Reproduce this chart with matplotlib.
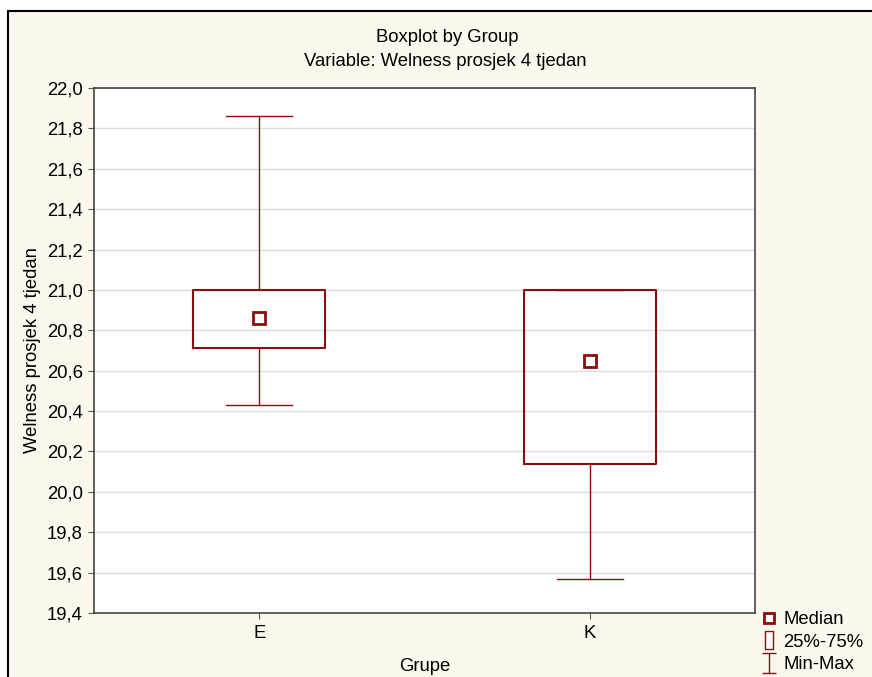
import matplotlib
matplotlib.use("Agg")
import matplotlib.pyplot as plt
from matplotlib.patches import Rectangle
from matplotlib.lines import Line2D
from matplotlib.path import Path

plt.rcParams['font.family'] = ['Liberation Sans', 'DejaVu Sans']

# ---- data ----
groups = ["E", "K"]
mins = [20.43, 19.57]
q1s = [20.71, 20.14]
medians = [20.86, 20.65]
q3s = [21.0, 21.0]
maxs = [21.86, 21.0]
yticks = [19.4, 19.6, 19.8, 20.0, 20.2, 20.4, 20.6, 20.8, 21.0, 21.2, 21.4, 21.6, 21.8, 22.0]
ytick_labels = [f"{v:.1f}".replace(".", ",") for v in yticks]
title1 = "Boxplot by Group"
title2 = "Variable: Welness prosjek 4 tjedan"
ylabel = "Welness prosjek 4 tjedan"
xlabel = "Grupe"
legend_labels = ["Median", "25%-75%", "Min-Max"]

RED = "#8B0E0E"
CREAM = "#FDF8ED"
FS = 13.3

W, H = 872, 677
fig = plt.figure(figsize=(W / 100, H / 100), dpi=100, facecolor="white")
# cream frame with black border
fig.patches.append(Rectangle((8 / W, -0.05), 1.1, 1 - 11 / H + 0.05, transform=fig.transFigure,
                             facecolor=CREAM, edgecolor="black", linewidth=1.5, zorder=-10))

ax = fig.add_axes([94 / W, 1 - 613 / H, (755 - 94) / W, (613 - 88) / H])
ax.set_facecolor("white")

stats = []
for g, lo, a, m, b, hi in zip(groups, mins, q1s, medians, q3s, maxs):
    stats.append(dict(label=g, whislo=lo, q1=a, med=m, q3=b, whishi=hi, fliers=[]))
positions = list(range(1, len(groups) + 1))
ax.bxp(stats, positions=positions, widths=0.4, showfliers=False,
       boxprops=dict(color=RED, linewidth=1.5),
       whiskerprops=dict(color=RED, linewidth=1.0),
       capprops=dict(color=RED, linewidth=1.0),
       medianprops=dict(linewidth=0), capwidths=0.2, zorder=3)
ax.plot(positions, medians, linestyle="none", marker="s", markersize=8,
        markerfacecolor="white", markeredgecolor=RED, markeredgewidth=2, zorder=4)

ax.set_xlim(0.5, len(groups) + 0.5)
ax.set_ylim(19.4, 22.0)
ax.set_yticks(yticks)
ax.set_yticklabels(ytick_labels)
ax.set_xticks(positions)
ax.set_xticklabels(groups)
ax.yaxis.grid(True, color="#DCDCDC", linewidth=1.0, zorder=0)
ax.set_axisbelow(True)
ax.tick_params(axis="both", labelsize=FS, colors="#555555", labelcolor="black", length=4,
               direction="out", pad=5)
ax.tick_params(axis="y", pad=4)
for s in ax.spines.values():
    s.set_color("#444444")
    s.set_linewidth(1.2)

ax.set_ylabel(ylabel, fontsize=FS, labelpad=4)
ax.set_xlabel(xlabel, fontsize=FS, labelpad=11)

fig.text(447 / W, 1 - 37 / H, title1, ha="center", va="center", fontsize=FS)
fig.text(445 / W, 1 - 62 / H, title2, ha="center", va="center", fontsize=FS)

# legend
ibeam = Path([(-0.7, 1), (0.7, 1), (0, 1), (0, -1), (-0.7, -1), (0.7, -1)],
             [Path.MOVETO, Path.LINETO, Path.MOVETO, Path.LINETO, Path.MOVETO, Path.LINETO])
tallrect = Path([(-0.38, -1), (0.38, -1), (0.38, 1), (-0.38, 1), (-0.38, -1)],
                [Path.MOVETO, Path.LINETO, Path.LINETO, Path.LINETO, Path.CLOSEPOLY])
handles = [
    Line2D([], [], linestyle="none", marker="s", markersize=6.5, markerfacecolor="white",
           markeredgecolor=RED, markeredgewidth=2),
    Line2D([], [], linestyle="none", marker=tallrect, markersize=13.5, markerfacecolor="white",
           markeredgecolor=RED, markeredgewidth=1.0),
    Line2D([], [], linestyle="none", marker=ibeam, markersize=14, markerfacecolor="none",
           markeredgecolor=RED, markeredgewidth=1.0),
]
fig.legend(handles, legend_labels, loc="lower left", bbox_to_anchor=(761 / W, 1 - 675 / H),
           frameon=False, fontsize=FS, handlelength=0.7, handletextpad=0.4,
           labelspacing=0.3, borderpad=0.1, borderaxespad=0)

fig.savefig("out.png", dpi=100, facecolor=fig.get_facecolor())
